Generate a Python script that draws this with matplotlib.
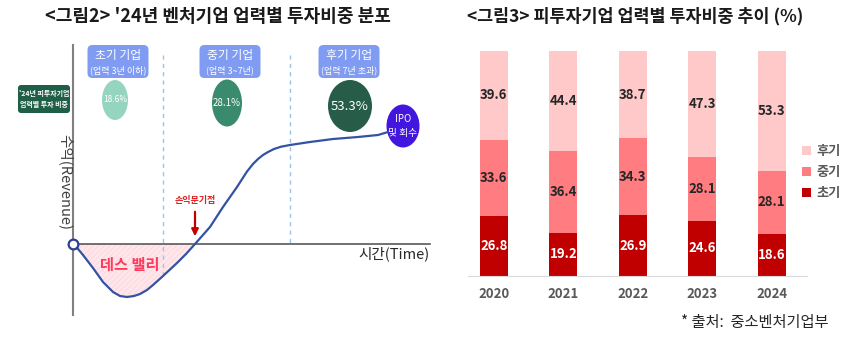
import numpy as np
import matplotlib.pyplot as plt
from matplotlib.patches import Ellipse, FancyBboxPatch

plt.rcParams['font.family'] = ['Noto Sans CJK KR', 'DejaVu Sans']
plt.rcParams['hatch.linewidth'] = 0.5

# <그림3> 피투자기업 업력별 투자비중 추이 (%)
years = ['2020', '2021', '2022', '2023', '2024']
early = [26.8, 19.2, 26.9, 24.6, 18.6]
mid = [33.6, 36.4, 34.3, 28.1, 28.1]
late = [39.6, 44.4, 38.7, 47.3, 53.3]
series_names = ['초기', '중기', '후기']

# <그림2> '24년 벤처기업 업력별 투자비중 분포
stage_names = ['초기 기업', '중기 기업', '후기 기업']
stage_desc = ['(업력 3년 이하)', '(업력 3~7년)', '(업력 7년 초과)']
stage_share = [18.6, 28.1, 53.3]
stage_bounds = [90, 217]          # 단계 구분선 (시간축)
# J-커브 (시간, 수익) - 그림에서 읽은 점
curve_t = [0, 5, 10, 20, 30, 40, 47, 54, 61, 67, 74, 80, 90, 104, 113, 122,
           137, 150, 164, 174, 180, 185, 190, 195, 201, 208, 217, 237, 260, 285,
           305, 315]
curve_rev = [0, -5, -11, -24, -38, -48, -52, -53, -52, -50, -46, -41, -32, -19,
             -10, 0, 17, 37, 57, 72.5, 80, 85, 89, 92, 95, 97.3, 99, 102, 105,
             107, 109, 112]

fig = plt.figure(figsize=(8.47, 3.37), dpi=100)

# ---------------- 왼쪽: 개념도 ----------------
axl = fig.add_axes([0, 0, 435 / 847, 1])
axl.set_xlim(-73, 362)
axl.set_ylim(-93, 244)
axl.axis('off')

# 데스 밸리 영역
t = np.array(curve_t)
r = np.array(curve_rev)
m = t <= 122
axl.fill_between(t[m], r[m], 0, facecolor='#FFE6EB', edgecolor='#FBD3DB',
                 hatch='//////', linewidth=0)

# 단계 구분 점선
axl.plot([stage_bounds[0]] * 2, [189, -32], color='#9DC3E6', lw=1, ls=(0, (3, 3)))
axl.plot([stage_bounds[1]] * 2, [189, 0], color='#9DC3E6', lw=1, ls=(0, (3, 3)))

# 축
axl.plot([0, 0], [199, -71], color='#808080', lw=1.5)
axl.plot([0, 357], [0, 0], color='#595959', lw=1.2)

# 곡선
axl.plot(curve_t, curve_rev, color='#3352A4', lw=1.6, solid_joinstyle='round',
         solid_capstyle='round')
axl.plot([0], [0], 'o', ms=7, mfc='white', mec='#2F3E8F', mew=1.6)

axl.text(57, -21, '데스 밸리', color='#FF3B5C', fontsize=11, fontweight='bold',
         ha='center', va='center')
axl.text(122, 43, '손익분기점', color='#E02020', fontsize=6.5, fontweight='bold',
         ha='center', va='center')
axl.annotate('', xy=(122, 5), xytext=(122, 35),
             arrowprops=dict(arrowstyle='-|>', color='#C00000', lw=1.6,
                             mutation_scale=10))
axl.text(-8, 62, '수익(Revenue)', rotation=270, fontsize=10.5, color='#404040',
         ha='center', va='center')
axl.text(357, -10, '시간(Time)', fontsize=10.5, color='#262626', ha='right',
         va='center')

# 단계 박스와 비중 원
stage_x = [45, 157, 276]
ell_x = [42, 154, 277]
ell_y = [144, 141, 138]
ell_w = [26, 30, 44]
ell_h = [40, 47, 52]
ell_c = ['#95D5C0', '#3A8A6E', '#265C48']
ell_fs = [6, 7, 9.5]
for i in range(3):
    bw = 61
    axl.add_patch(FancyBboxPatch((stage_x[i] - bw / 2, 166), bw, 33,
                                 boxstyle='round,pad=0,rounding_size=5',
                                 fc='#809CF2', ec='none'))
    axl.text(stage_x[i], 189, stage_names[i], color='white', fontsize=8.5,
             ha='center', va='center')
    axl.text(stage_x[i], 174, stage_desc[i], color='white', fontsize=6.5,
             ha='center', va='center')
    axl.add_patch(Ellipse((ell_x[i], ell_y[i]), ell_w[i], ell_h[i],
                          fc=ell_c[i], ec='none'))
    axl.text(ell_x[i], ell_y[i], f'{stage_share[i]}%', color='white',
             fontsize=ell_fs[i], ha='center', va='center')

axl.add_patch(Ellipse((330, 118), 33, 43, fc='#4316E0', ec='none'))
axl.text(330, 118, 'IPO\n및 회수', color='white', fontsize=7, ha='center',
         va='center', linespacing=1.5)

axl.add_patch(FancyBboxPatch((-55, 131), 52, 28,
                             boxstyle='round,pad=0,rounding_size=3',
                             fc='#1F5E47', ec='none'))
axl.text(-29, 145, "'24년 피투자기업\n업력별 투자 비중", color='white', fontsize=5,
         fontweight='bold', ha='center', va='center', linespacing=1.6)

fig.text(218 / 847, 1 - 16 / 337, "<그림2> '24년 벤처기업 업력별 투자비중 분포",
         fontsize=13, fontweight='bold', ha='center', va='center', color='#1a1a1a')

# ---------------- 오른쪽: 누적 막대 ----------------
axr = fig.add_axes([468 / 847, 61 / 337, 339 / 847, 225.3 / 337])
x = np.arange(len(years))
w = 0.4
colors = ['#C00000', '#FF7C80', '#FFC9C9']
bottom = np.zeros(len(years))
handles = []
for vals, name, c, tc in zip([early, mid, late], series_names, colors,
                             ['white', '#262626', '#262626']):
    b = axr.bar(x, vals, w, bottom=bottom, color=c, label=name)
    handles.append(b)
    for xi, v, bt in zip(x, vals, bottom):
        axr.text(xi, bt + v / 2, f'{v}', ha='center', va='center', color=tc,
                 fontsize=9.5, fontweight='bold')
    bottom += np.array(vals)

axr.set_xlim(-0.371, 4.507)
axr.set_ylim(0, 100)
for s in ['top', 'right', 'left']:
    axr.spines[s].set_visible(False)
axr.spines['bottom'].set_color('#D9D9D9')
axr.set_yticks([])
axr.set_xticks(x)
axr.set_xticklabels(years, fontsize=9.5, fontweight='bold', color='#595959')
axr.tick_params(axis='x', length=0, pad=8)

axr.legend(handles[::-1], series_names[::-1], loc='center left',
           bbox_to_anchor=(802 / 847, 1 - 172 / 337),
           bbox_transform=fig.transFigure, frameon=False, handlelength=0.7,
           handleheight=0.7, handletextpad=0.4, labelspacing=0.55,
           borderaxespad=0, borderpad=0,
           prop={'size': 9.5, 'weight': 'bold'}, labelcolor='#595959')

fig.text(635 / 847, 1 - 16 / 337, '<그림3> 피투자기업 업력별 투자비중 추이 (%)',
         fontsize=12.5, fontweight='bold', ha='center', va='center', color='#1a1a1a')
fig.text(828 / 847, 1 - 323 / 337, '* 출처:  중소벤처기업부', fontsize=11,
         ha='right', va='center', color='#262626')

fig.savefig('out.png', dpi=100)
